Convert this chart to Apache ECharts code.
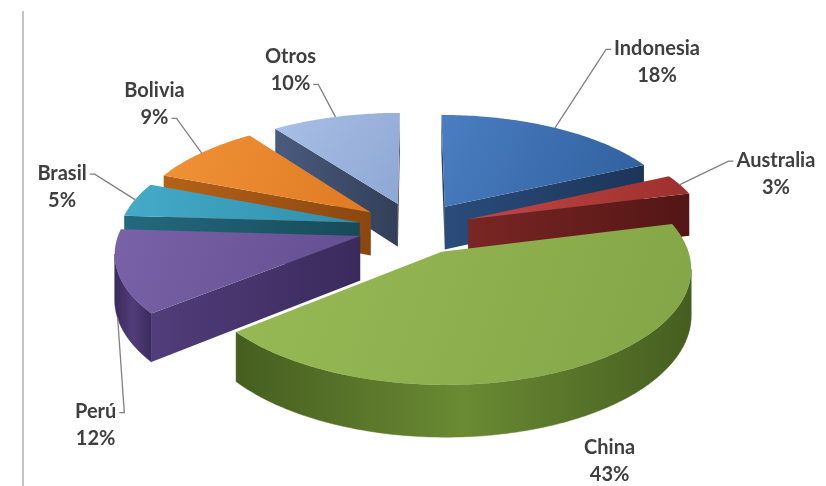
<!DOCTYPE html>
<html><head><meta charset="utf-8">
<script src="https://cdn.jsdelivr.net/npm/echarts@6/dist/echarts.min.js"></script>
<style>html,body{margin:0;padding:0;background:#fff}#c{width:826px;height:486px}</style>
</head><body><div id="c"></div>
<script>
// ---- data ----
const categories = ['Indonesia', 'Australia', 'China', 'Perú', 'Brasil', 'Bolivia', 'Otros'];
const shares = [18, 3, 43, 12, 5, 9, 10];

// ---- styling (not data) ----
const topColors = [
  ['#4a7ec2', '#2f5e9c'], ['#c24844', '#9c2f2c'], ['#98ba55', '#84a547'],
  ['#7a62a8', '#634c8e'], ['#45abc8', '#2e8fab'], ['#f09238', '#df7b22'], ['#a9c0e6', '#8ea7d3']
];
const sideColors = [
  ['#2a4c7c', '#1c3557'], ['#7a2624', '#521615'], ['#6a8a33', '#455e1f'],
  ['#513d7a', '#3a2a5c'], ['#236a7e', '#174a58'], ['#b56218', '#8a4710'], ['#4a5b7e', '#333f58']
];
// label placement relative to the slice's rim mid-point
const labelPlacement = [
  { dx: 102, dy: -66, side: 'left', line: 0 },
  { dx: 96, dy: -11, side: 'left', line: 0 },
  { dx: 37, dy: 93, side: 'none', line: 0 },
  { dx: -22, dy: 107, side: 'right', line: 0, toBottom: true },
  { dx: -73, dy: -13, side: 'right', line: 0 },
  { dx: -47, dy: -49, side: 'right', line: 1 },
  { dx: -45, dy: -47, side: 'right', line: 1 }
];
const geo = { cx: 415, cy: 228, R: 240, tilt: 0.454, D: 1834, explode: 57, depth: 44 };
const FONT = 'bold 20px Lato';
const LINE_H = 27;

const measureCtx = document.createElement('canvas').getContext('2d');
measureCtx.font = FONT;
function textW(s) { return measureCtx.measureText(s).width; }

const total = shares.reduce((a, b) => a + b, 0);
function sliceAngles(i) {
  let s = 0;
  for (let k = 0; k < i; k++) s += shares[k];
  const t1 = s / total * Math.PI * 2;
  const t2 = (s + shares[i]) / total * Math.PI * 2;
  return [t1, t2, (t1 + t2) / 2];
}
// drawing order: far slices first
const order = shares.map((v, i) => i).sort((a, b) => Math.cos(sliceAngles(b)[2]) - Math.cos(sliceAngles(a)[2]));
const rankOf = {};
order.forEach((idx, r) => { rankOf[idx] = r; });

function renderItem(params, api) {
  const i = params.dataIndex;
  const val = api.value(0);
  const [t1, t2, tm] = sliceAngles(i);
  const ox = geo.explode * Math.sin(tm), oz = geo.explode * Math.cos(tm);
  function P(t, r, down) {
    const X = r * Math.sin(t) + ox, Z = r * Math.cos(t) + oz;
    const p = geo.D / (geo.D + Z);
    return [geo.cx + X * p, geo.cy - geo.tilt * Z * p + (down ? geo.depth * p : 0)];
  }
  const n = Math.max(2, Math.ceil((t2 - t1) / 0.015));
  const ts = [];
  for (let k = 0; k <= n; k++) ts.push(t1 + (t2 - t1) * k / n);
  const topArc = ts.map(t => P(t, geo.R, false));
  const botArc = ts.map(t => P(t, geo.R, true));
  const apexT = P(0, 0, false), apexB = P(0, 0, true);
  const rank = rankOf[i];
  const children = [];
  const sideFill = new echarts.graphic.LinearGradient(0, 0, 1, 0, [
    { offset: 0, color: sideColors[i][0] }, { offset: 1, color: sideColors[i][1] }]);
  const sideFill2 = new echarts.graphic.LinearGradient(0, 0, 1, 0, [
    { offset: 0, color: sideColors[i][1] }, { offset: 0.5, color: sideColors[i][0] }, { offset: 1, color: sideColors[i][1] }]);

  // radial faces
  const M = P(tm, geo.R * 0.6, false);
  [t1, t2].forEach(t => {
    const B = P(t, geo.R, false), Bb = P(t, geo.R, true);
    const e = [B[0] - apexT[0], B[1] - apexT[1]];
    const cv = e[0] * 1 - e[1] * 0;
    const cm = e[0] * (M[1] - apexT[1]) - e[1] * (M[0] - apexT[0]);
    if (cv * cm < 0) {
      children.push({
        type: 'polygon', z2: rank * 10 + 1,
        shape: { points: [apexT, B, Bb, apexB] },
        style: { fill: sideFill }
      });
    }
  });
  // outer wall (visible runs where projected x decreases)
  let run = null;
  const runs = [];
  for (let k = 0; k < n; k++) {
    const vis = topArc[k + 1][0] < topArc[k][0];
    if (vis) {
      if (!run) { run = [k]; runs.push(run); }
      run.push(k + 1);
    } else run = null;
  }
  runs.forEach(r => {
    const pts = r.map(k => topArc[k]).concat(r.slice().reverse().map(k => botArc[k]));
    children.push({
      type: 'polygon', z2: rank * 10 + 2,
      shape: { points: pts },
      style: { fill: sideFill2, stroke: sideFill2, lineWidth: 0.5 }
    });
  });
  // top face
  children.push({
    type: 'polygon', z2: rank * 10 + 3,
    shape: { points: [apexT].concat(topArc) },
    style: {
      fill: new echarts.graphic.LinearGradient(0, 0, 1, 1, [
        { offset: 0, color: topColors[i][0] }, { offset: 1, color: topColors[i][1] }])
    }
  });

  // label + leader
  const lp = labelPlacement[i];
  const rim = P(tm, geo.R, !!lp.toBottom);
  const lx = rim[0] + lp.dx, ly = rim[1] + lp.dy;
  const lines = [categories[i], val + '%'];
  children.push({
    type: 'text', z2: 1000,
    style: {
      text: lines.join('\n'), x: lx, y: ly, align: 'center', verticalAlign: 'middle',
      font: FONT, lineHeight: LINE_H, fill: '#3f3f3f'
    }
  });
  if (lp.side !== 'none') {
    const w = textW(lines[lp.line]);
    const sgn = lp.side === 'left' ? -1 : 1;
    const ax = lx + sgn * (w / 2 + 3);
    const ay = ly + (lp.line === 0 ? -LINE_H / 2 : LINE_H / 2) + 1;
    children.push({
      type: 'polyline', z2: 999,
      shape: { points: [[ax, ay], [ax + sgn * 5, ay], rim] },
      style: { stroke: '#808080', lineWidth: 1.3, fill: null }
    });
  }
  return { type: 'group', children: children };
}

const chart = echarts.init(document.getElementById('c'), null, { renderer: 'canvas' });
chart.setOption({
  animation: false,
  backgroundColor: '#ffffff',
  graphic: [{
    type: 'line', shape: { x1: 23, y1: 11, x2: 23, y2: 486 },
    style: { stroke: '#c4c4c4', lineWidth: 2 }, z: -1
  }],
  series: [{
    type: 'custom',
    coordinateSystem: 'none',
    renderItem: renderItem,
    data: shares.map((v, i) => ({ name: categories[i], value: [v] }))
  }]
});
</script></body></html>
